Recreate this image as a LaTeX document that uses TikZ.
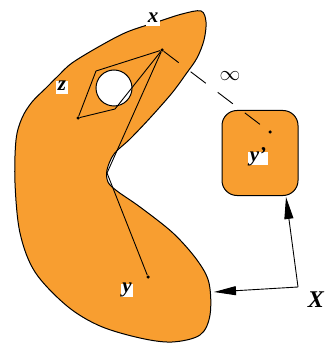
\documentclass[tikz,border=0pt]{standalone}
\usepackage{fontspec}
\setmainfont{Liberation Serif}
\usetikzlibrary{arrows.meta}
\definecolor{blob}{RGB}{248,158,48}
\begin{document}
\begin{tikzpicture}[x=1pt,y=-1pt,
  outline/.style={draw=black,line width=1pt,fill=blob},
  thin/.style={line width=0.9pt},
  lab/.style={fill=white,inner xsep=1.5pt,inner ysep=2pt,text height=0.68em,text depth=0.22em,font=\fontsize{21}{21}\selectfont\bfseries},
  dot/.style={circle,fill=black,inner sep=0pt,minimum size=3.5pt},
  arr/.style={line width=0.9pt,-{Triangle[length=22pt,width=9pt]}}]
\useasboundingbox (0,0) rectangle (324,347);
% blob
\path[outline] plot[smooth cycle,tension=0.55] coordinates{
 (182,14) (201,11) (206,22) (204,40) (197,58) (186,74) (172,93) (150,118)
 (130,139) (114,154) (107,170) (108,182) (117,191) (140,207) (173,233)
 (197,260) (209,283) (210,315) (200,335) (172,342) (140,338) (100,326)
 (67,306) (35,272) (20,233) (15,183) (16,140) (22,118) (32,102) (46,88)
 (58,76) (72,63) (100,46) (127,32) (157,22)};
% hole
\node[circle,draw=black,fill=white,line width=1pt,minimum size=36pt,inner sep=0pt] (hole) at (114,88) {};
% points
\node[dot] (a) at (162,50) {};
\node[dot] (b) at (78,118) {};
\node[dot] (c) at (148,277) {};
\coordinate (k1) at (96,71);
\coordinate (k2) at (115,109);
\coordinate (tip) at (107,173);
\draw[thin] (b) -- (k1) -- (a) -- (k2) -- (b);
\draw[thin] (a) -- (tip) -- (c);
% box
\node[outline,rounded corners=15pt,minimum width=76pt,minimum height=85pt] (box) at (260,153) {};
\node[dot] (d) at (270,132) {};
\draw[thin,dash pattern=on 19pt off 15pt] (a) -- (d);
\node (inf) at (230,76) {\fontsize{22}{22}\selectfont$\infty$};
% labels
\node[lab] (lx) at (153,20) {\textit{x}};
\node[lab] (lz) at (62,88) {\textit{z}};
\node[lab] (ly) at (127,290) {\textit{y}};
\node[lab] (lyp) at (258,159) {\textit{y'}};
\node[font=\fontsize{24}{24}\selectfont\bfseries] (lX) at (316,300) {\textit{X}};
% arrows
\coordinate (corner) at (298,287);
\coordinate (blobR) at (214,292);
\coordinate (boxB) at (286,197);
\draw[arr] (corner) -- (blobR);
\draw[arr] (corner) -- (boxB);
\end{tikzpicture}
\end{document}
